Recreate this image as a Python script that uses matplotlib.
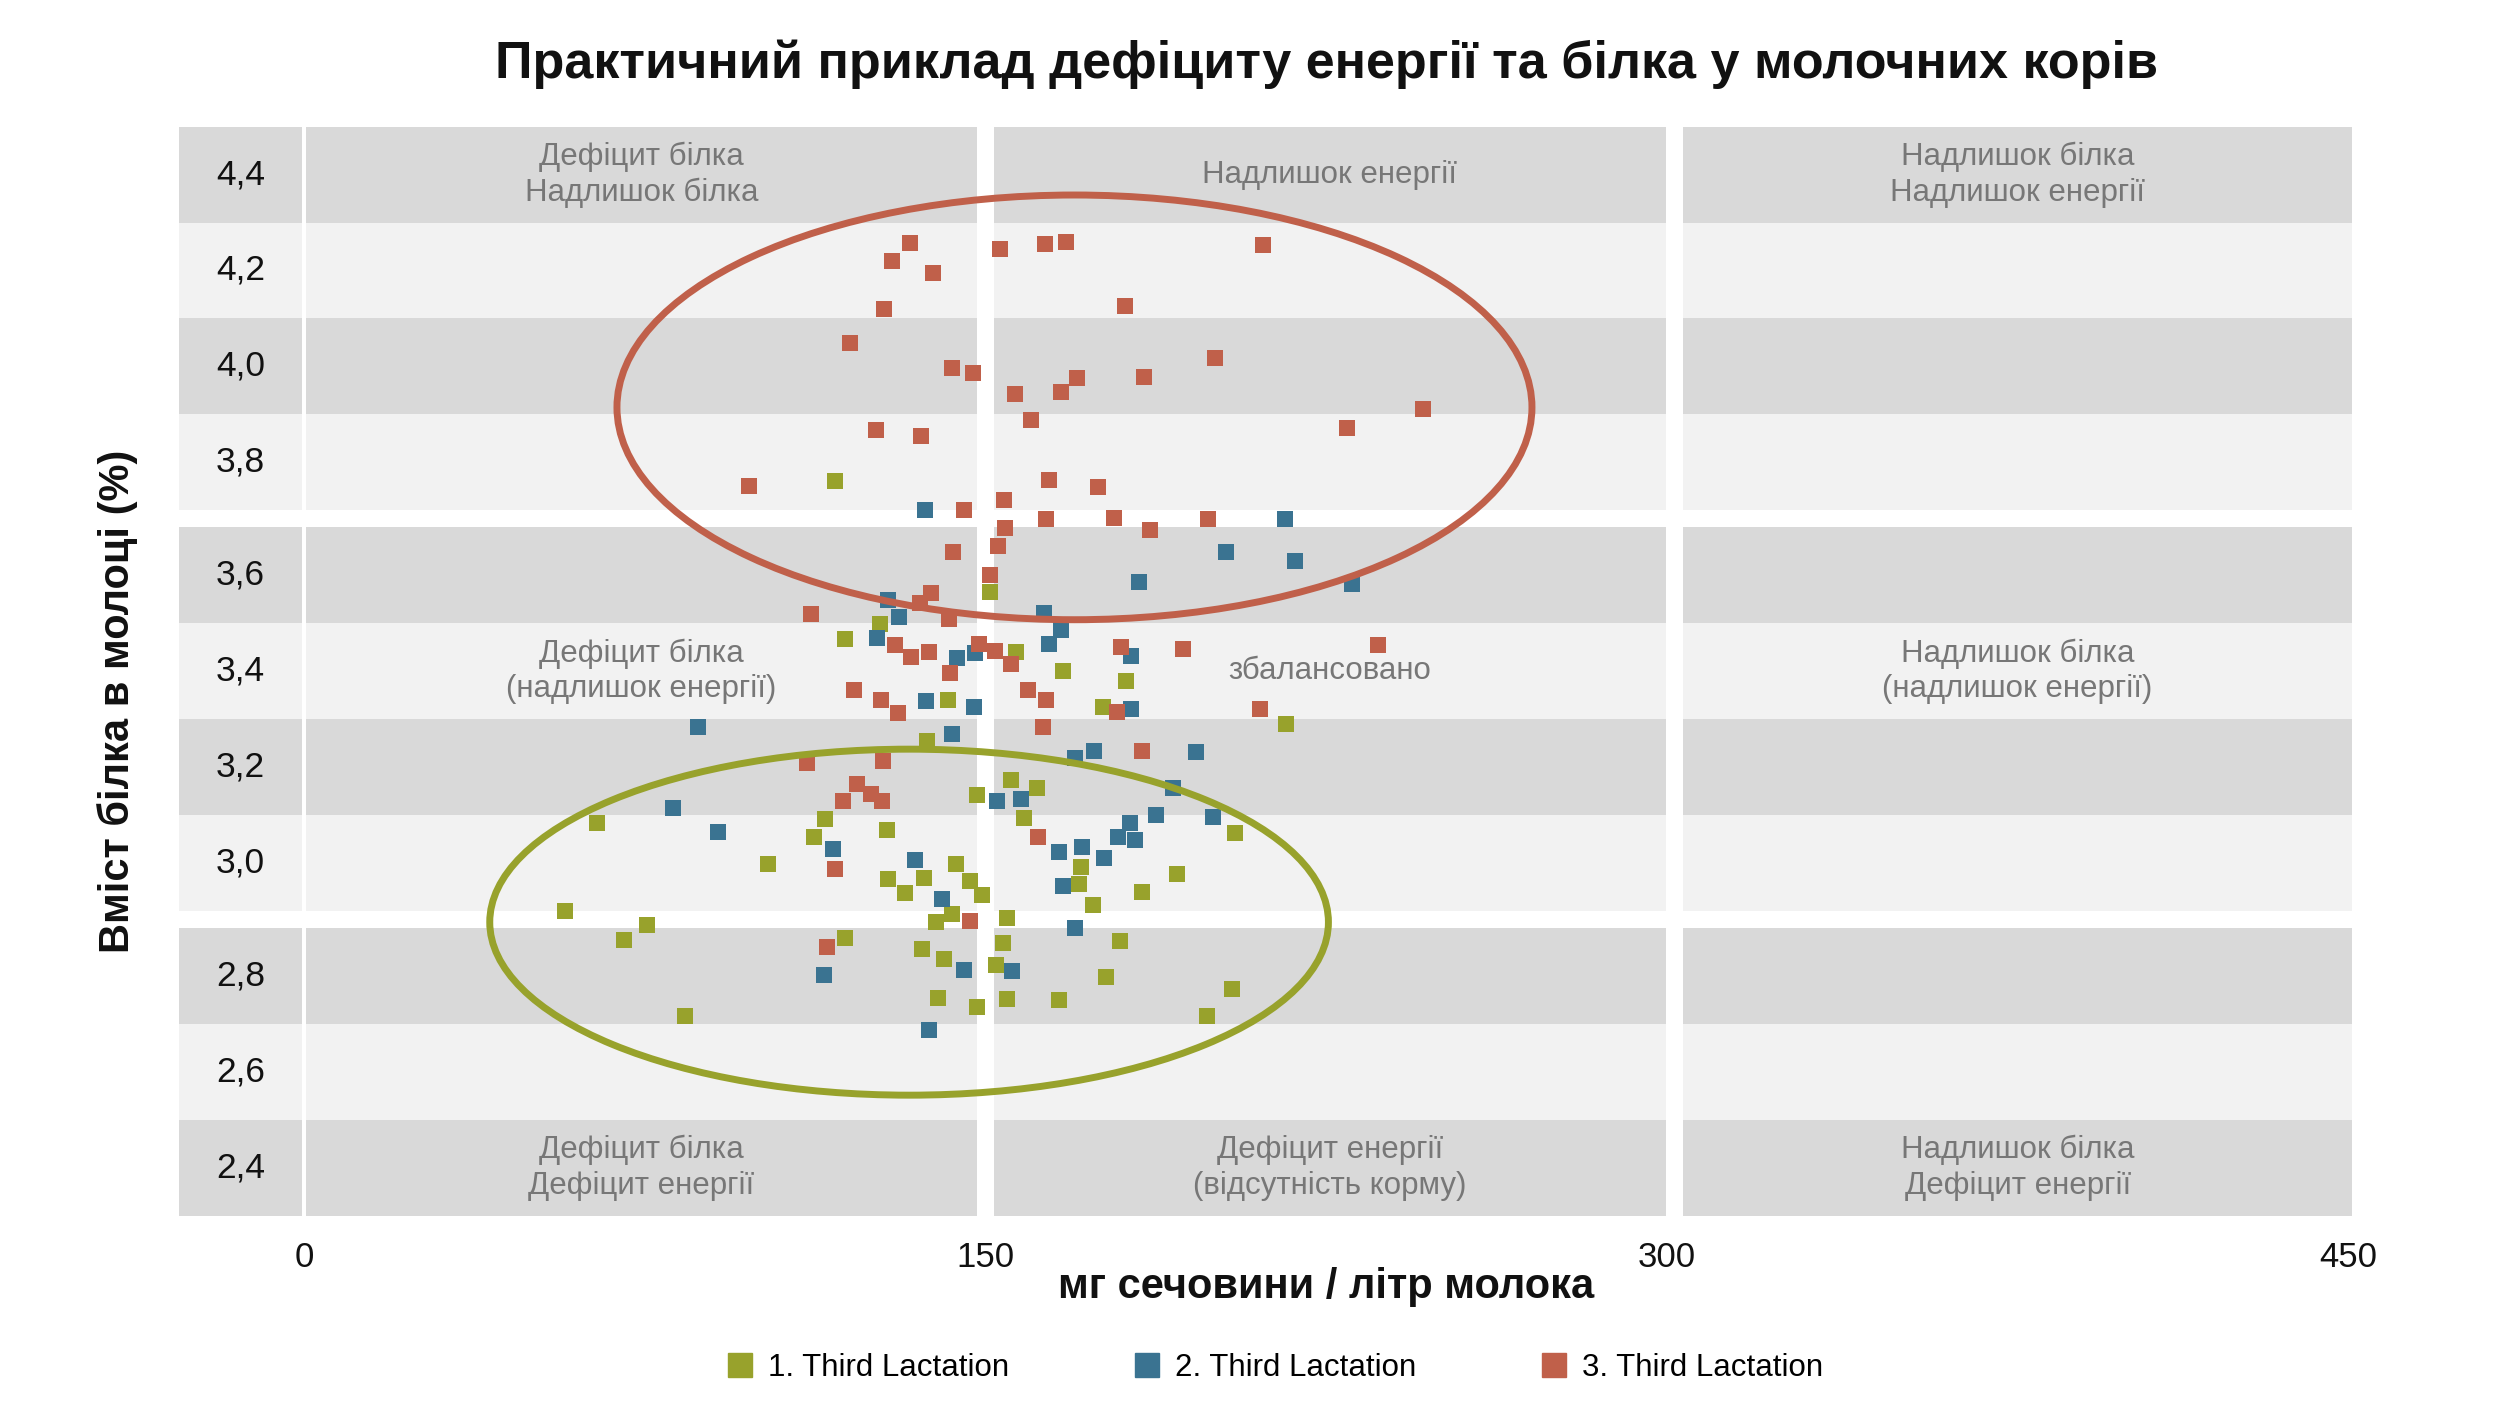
import matplotlib
matplotlib.use('Agg')
import matplotlib.pyplot as plt
from matplotlib.patches import Ellipse, Rectangle
from matplotlib.lines import Line2D

plt.rcParams['font.family'] = ['Liberation Sans', 'DejaVu Sans']

# --- data (urea mg/l, milk protein %) ---
green_x = [117.0, 151.1, 126.9, 119.2, 156.8, 167.0, 141.8, 137.2, 148.2, 155.7, 161.4, 114.7, 112.3,
           128.4, 143.6, 128.6, 136.5, 132.3, 146.7, 149.3, 142.7, 139.2, 154.8, 158.6, 119.2, 136.1,
           140.9, 153.9, 152.4, 139.6, 148.2, 154.7, 166.2, 204.9, 171.0, 192.1, 170.7, 184.5, 173.7,
           179.7, 176.6, 204.3, 198.7, 180.9, 175.8, 216.1, 64.6, 102.2, 57.5, 75.6, 70.4, 83.9]
green_y = [3.785, 3.559, 3.495, 3.465, 3.439, 3.401, 3.341, 3.258, 3.149, 3.180, 3.164, 3.101, 3.065,
           3.079, 3.010, 2.980, 2.982, 2.951, 2.976, 2.947, 2.909, 2.893, 2.901, 3.103, 2.860, 2.838,
           2.818, 2.850, 2.806, 2.739, 2.722, 2.737, 2.735, 3.073, 3.004, 2.990, 2.970, 2.953, 2.927,
           2.854, 2.783, 2.758, 2.704, 3.380, 3.327, 3.293, 3.093, 3.010, 2.915, 2.887, 2.856, 2.704]

blue_x = [136.8, 216.0, 202.9, 218.1, 183.9, 128.6, 163.0, 130.9, 166.7, 126.1, 143.8, 147.8, 164.1,
          136.9, 147.5, 142.7, 152.6, 157.8, 116.4, 134.6, 140.5, 166.2, 167.0, 114.5, 145.3, 155.9,
          137.6, 191.3, 187.5, 181.8, 200.1, 179.2, 183.0, 171.3, 176.0, 169.8, 182.0, 182.0, 169.8,
          174.0, 196.4, 86.8, 81.3, 91.2, 230.7]
blue_y = [3.726, 3.707, 3.641, 3.623, 3.580, 3.544, 3.517, 3.509, 3.483, 3.467, 3.426, 3.436, 3.454,
          3.339, 3.328, 3.273, 3.138, 3.142, 3.041, 3.018, 2.939, 3.035, 2.967, 2.786, 2.796, 2.794,
          2.676, 3.164, 3.109, 3.093, 3.105, 3.065, 3.058, 3.044, 3.022, 2.881, 3.430, 3.323, 3.224,
          3.238, 3.236, 3.287, 3.123, 3.075, 3.576]

red_x = [133.5, 129.5, 138.5, 127.7, 120.3, 142.7, 147.3, 126.0, 135.9, 97.9, 145.3, 142.8, 153.2,
         163.2, 167.8, 211.2, 180.8, 200.5, 170.2, 184.9, 156.5, 166.7, 160.1, 229.6, 246.4, 164.1,
         174.8, 154.2, 163.3, 178.4, 198.9, 154.4, 186.2, 152.8, 151.1, 138.1, 135.7, 111.7, 142.0,
         130.2, 133.7, 137.6, 148.6, 152.2, 155.7, 142.3, 121.0, 127.1, 130.8, 159.4, 163.3, 162.7,
         110.8, 127.5, 121.8, 124.9, 118.7, 127.3, 116.9, 146.7, 161.6, 115.2, 179.8, 193.4, 179.0,
         210.4, 184.5, 236.4]
red_y = [4.265, 4.229, 4.205, 4.132, 4.064, 4.013, 4.003, 3.887, 3.875, 3.774, 3.726, 3.641, 4.252,
         4.264, 4.267, 4.262, 4.138, 4.033, 3.993, 3.995, 3.961, 3.964, 3.908, 3.891, 3.930, 3.786,
         3.772, 3.746, 3.707, 3.709, 3.707, 3.689, 3.685, 3.653, 3.594, 3.558, 3.538, 3.516, 3.505,
         3.452, 3.428, 3.438, 3.454, 3.440, 3.414, 3.396, 3.362, 3.341, 3.315, 3.362, 3.341, 3.287,
         3.215, 3.218, 3.172, 3.152, 3.138, 3.138, 3.001, 2.895, 3.065, 2.842, 3.449, 3.444, 3.317,
         3.323, 3.238, 3.453]

series_names = ['1. Third Lactation', '2. Third Lactation', '3. Third Lactation']
series_colours = ['#98a22c', '#3a7391', '#c0604a']

y_labels = ['4,4', '4,2', '4,0', '3,8', '3,6', '3,4', '3,2', '3,0', '2,8', '2,6', '2,4']
x_ticks = [0, 150, 300, 450]

zone_labels = [
    ['Дефіцит білка\nНадлишок білка', 'Надлишок енергії', 'Надлишок білка\nНадлишок енергії'],
    ['Дефіцит білка\n(надлишок енергії)', 'збалансовано', 'Надлишок білка\n(надлишок енергії)'],
    ['Дефіцит білка\nДефіцит енергії', 'Дефіцит енергії\n(відсутність корму)', 'Надлишок білка\nДефіцит енергії'],
]

# ellipses: centre x, centre y, width, height
red_ellipse = (169.6, 3.933, 201.4, 0.858)
green_ellipse = (133.2, 2.893, 184.6, 0.699)

title = 'Практичний приклад дефіциту енергії та білка у молочних корів'
x_title = 'мг сечовини / літр молока'
y_title = 'Вміст білка в молоці (%)'

# --- layout of the background grid ---
x_min, x_max = -27.5, 450.8
y_min, y_max = 2.3, 4.5
bands_per_block = [4, 4, 3]
row_gap = 0.035
band_h = (y_max - y_min - row_gap * (len(bands_per_block) - 1)) / sum(bands_per_block)
columns = [(x_min, -0.45), (0.45, 148.15), (151.85, 299.8), (303.6, x_max)]
dark, light = '#d9d9d9', '#f2f2f2'

fig = plt.figure(figsize=(25.1, 14.12), dpi=100)
ax = fig.add_axes([179 / 2510, 1 - 1215.7 / 1412, 2173 / 2510, 1089 / 1412])
ax.set_xlim(x_min, x_max)
ax.set_ylim(y_min, y_max)
for side in ax.spines.values():
    side.set_visible(False)

bands = []
top = y_max
for n in bands_per_block:
    for i in range(n):
        bands.append((top - band_h, top))
        top -= band_h
    top -= row_gap

for idx, (b0, b1) in enumerate(bands):
    colour = dark if idx % 2 == 0 else light
    for c0, c1 in columns:
        ax.add_patch(Rectangle((c0, b0), c1 - c0, b1 - b0, facecolor=colour, edgecolor='none', zorder=0))
    ax.text((columns[0][0] + columns[0][1]) / 2, (b0 + b1) / 2, y_labels[idx],
            ha='center', va='center', fontsize=25.5, color='#111111', zorder=1)

# zone captions sit in the first, sixth and last band
caption_bands = [0, 5, 10]
for row, band_idx in enumerate(caption_bands):
    b0, b1 = bands[band_idx]
    for col in range(3):
        c0, c1 = columns[col + 1]
        ax.text((c0 + c1) / 2, (b0 + b1) / 2, zone_labels[row][col], ha='center', va='center',
                fontsize=22.5, color='#777777', linespacing=1.25, zorder=1)

# points
for xs, ys, colour in zip([green_x, blue_x, red_x], [green_y, blue_y, red_y], series_colours):
    ax.scatter(xs, ys, marker='s', s=117, color=colour, linewidths=0, zorder=3)

for (cx, cy, w, h), colour in zip([red_ellipse, green_ellipse], [series_colours[2], series_colours[0]]):
    ax.add_patch(Ellipse((cx, cy), w, h, fill=False, edgecolor=colour, linewidth=5, zorder=4))

ax.set_yticks([])
ax.set_xticks(x_ticks)
ax.set_xticklabels([str(t) for t in x_ticks])
ax.tick_params(axis='x', length=0, pad=18, labelsize=25, labelcolor='#111111')

ax.text(225, 1.0576, title, transform=ax.get_xaxis_transform(), ha='center', va='center',
        fontsize=37.5, fontweight='bold', color='#111111')
ax.text(225, -0.0655, x_title, transform=ax.get_xaxis_transform(), ha='center', va='center',
        fontsize=30, fontweight='bold', color='#111111')
ax.text(-0.0285, 0.472, y_title, transform=ax.transAxes, rotation=90, ha='center', va='center',
        fontsize=30, fontweight='bold', color='#111111')

handles = [Line2D([], [], marker='s', linestyle='none', color=c, markersize=17) for c in series_colours]
fig.legend(handles, series_names, ncol=3, loc='center', bbox_to_anchor=(0.508, 0.031), frameon=False,
           fontsize=22.5, handlelength=0.8, handletextpad=0.5, columnspacing=4.0)

fig.savefig('out.png', dpi=100)
